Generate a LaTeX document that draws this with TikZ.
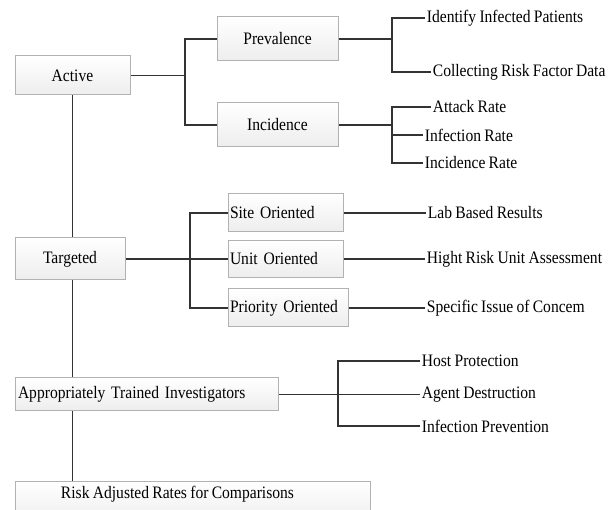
\documentclass[tikz,border=0pt]{standalone}
\usepackage{fontspec}
\setmainfont{Liberation Serif}[FakeStretch = 0.89, WordSpace = 0.85]
\usepackage{tikz}

\begin{document}
\begin{tikzpicture}[x = 1pt, y = -1pt, line width = 1.8pt,
                        font = \fontsize{17.5pt}{20pt}\selectfont,
                        box/.style = {rectangle, draw = gray!60, line width = 1pt, top color = white, bottom color = gray!14, inner sep = 2pt},
                        lbox/.style = {box, align = left},
                        leaf/.style = {anchor = west, inner sep = 1pt},
                        link/.style = {draw = black!80}]
      \useasboundingbox (0, 0) rectangle (614, 510);
      \node [box, minimum width = 115pt, minimum height = 39pt] (active) at (72.5, 75.5){Active};
      \node [box, minimum width = 121pt, minimum height = 44pt] (prev) at (277.5, 39){Prevalence};
      \node [box, minimum width = 121pt, minimum height = 44pt] (inc) at (277.5, 125){Incidence};
      \node [box, minimum width = 110pt, minimum height = 42pt] (targ) at (70, 259){Targeted};
      \node [lbox, text width = 111pt, minimum height = 38pt] (site) at (285.5, 213){Site Oriented};
      \node [lbox, text width = 111pt, minimum height = 37pt] (unit) at (285.5, 259){Unit Oriented};
      \node [lbox, text width = 116pt, minimum height = 38pt] (prio) at (288, 308){Priority Oriented};
      \node [lbox, text width = 257pt, inner xsep = 3pt, minimum height = 33pt] (appr) at (146.5, 394.5){Appropriately Trained Investigators};
      \node [box, minimum width = 355pt, anchor = north, text height = 13pt, text depth = 22pt, inner ysep = 4pt] (risk) at (192.5, 481){Risk Adjusted Rates for Comparisons\hspace*{30pt}};
      \node [leaf] (idp) at (425, 18){Identify Infected Patients};
      \node [leaf] (crf) at (431, 72){Collecting Risk Factor Data};
      \node [leaf] (atk) at (431, 107){Attack Rate};
      \node [leaf] (infr) at (423, 135){Infection Rate};
      \node [leaf] (incr) at (423, 163){Incidence Rate};
      \node [leaf] (lab) at (426, 213){Lab Based Results};
      \node [leaf] (hru) at (425, 259){Hight Risk Unit Assessment};
      \node [leaf] (sic) at (425, 308){Specific Issue of Concem};
      \node [leaf] (host) at (420, 361){Host Protection};
      \node [leaf] (agent) at (420, 394.5){Agent Destruction};
      \node [leaf] (infp) at (420, 426){Infection Prevention};
      \coordinate (ja) at (185, 75.5);
      \coordinate (jp) at (392, 39);
      \coordinate (ji) at (392, 125);
      \coordinate (jt) at (190, 259);
      \coordinate (jq) at (338, 394.5);
      \draw [link] (active.south) -- (active.south |- targ.north);
      \draw [link] (active.south |- targ.south) -- (active.south |- appr.north);
      \draw [link] (active.south |- appr.south) -- (active.south |- risk.north);
      \draw [link] (active.east) -- (ja) |- (prev.west);
      \draw [link] (ja) |- (inc.west);
      \draw [link] (prev.east) -- (jp) |- (idp.west);
      \draw [link] (jp) |- (crf.west);
      \draw [link] (inc.east) -- (ji) |- (atk.west);
      \draw [link] (ji) |- (infr.west);
      \draw [link] (ji) |- (incr.west);
      \draw [link] (targ.east) -- (unit.west);
      \draw [link] (site.west) -| (jt) |- (prio.west);
      \draw [link] (site.east) -- (lab.west);
      \draw [link] (unit.east) -- (hru.west);
      \draw [link] (prio.east) -- (sic.west);
      \draw [link] (appr.east) -- (jq) |- (host.west);
      \draw [link] (jq) |- (infp.west);
      \draw [link] (jq) -- (agent.west);
    \end{tikzpicture}
\end{document}
